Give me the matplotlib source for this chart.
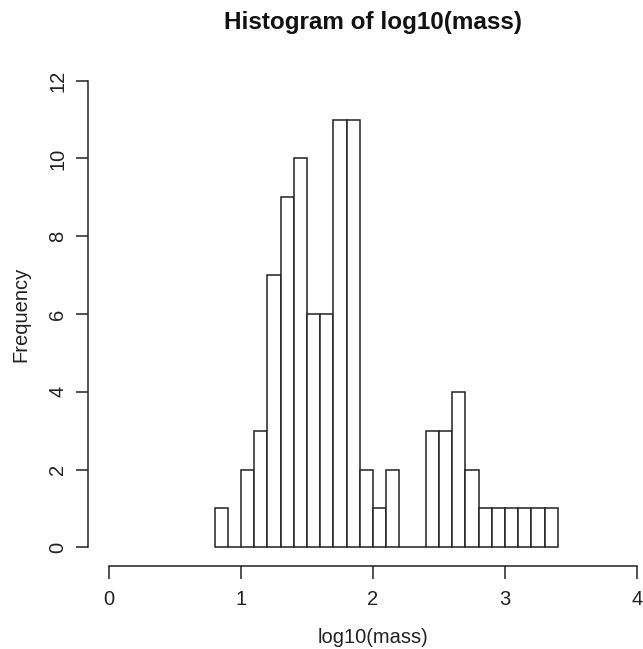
"""
R-style histogram of log10(mass), redrawn with matplotlib.
"""

import numpy as np
import matplotlib
matplotlib.use("Agg")
import matplotlib.pyplot as plt

plt.rcParams["font.family"] = ["Liberation Sans", "DejaVu Sans"]

# bin edges (width 0.1) and counts per bin
bin_left = np.round(np.arange(0.8, 3.4, 0.1), 2)
counts = [1, 0, 2, 3, 7, 9, 10, 6, 6, 11, 11, 2, 1, 2, 0, 0,
          3, 3, 4, 2, 1, 1, 1, 1, 1, 1]
bin_width = 0.1

x_ticks = [0, 1, 2, 3, 4]
y_ticks = [0, 2, 4, 6, 8, 10, 12]

W, H = 643, 649
fig = plt.figure(figsize=(W / 100, H / 100), dpi=100)
# plot region in pixels: x 88..658, y 62..566 (R adds 4% on each side)
ax = fig.add_axes([88 / W, 1 - 566 / H, (658 - 88) / W, (566 - 62) / H])

ax.bar(bin_left, counts, width=bin_width, align="edge",
       facecolor="white", edgecolor="#222222", linewidth=1.1)

ax.set_xlim(-0.16, 4.16)
ax.set_ylim(-0.48, 12.48)

for side in ("top", "right"):
    ax.spines[side].set_visible(False)
ax.spines["bottom"].set_bounds(0, 4)
ax.spines["left"].set_bounds(0, 12)
for side in ("bottom", "left"):
    ax.spines[side].set_color("#222222")
    ax.spines[side].set_linewidth(1.1)

ax.set_xticks(x_ticks)
ax.set_yticks(y_ticks)
ax.tick_params(axis="both", direction="out", length=9, width=1.1,
               color="#222222", labelsize=14.5, labelcolor="#222222")
ax.tick_params(axis="x", pad=8)
ax.tick_params(axis="y", pad=6)
plt.setp(ax.get_yticklabels(), rotation=90, va="center")

ax.set_xlabel("log10(mass)", fontsize=14.5, color="#222222", labelpad=14)
ax.set_ylabel("Frequency", fontsize=14.5, color="#222222", labelpad=13)
fig.text(373 / W, 1 - 22 / H, "Histogram of log10(mass)", ha="center",
         va="center", fontsize=17.5, fontweight="bold", color="#111111")

fig.savefig("out.png", dpi=100)
